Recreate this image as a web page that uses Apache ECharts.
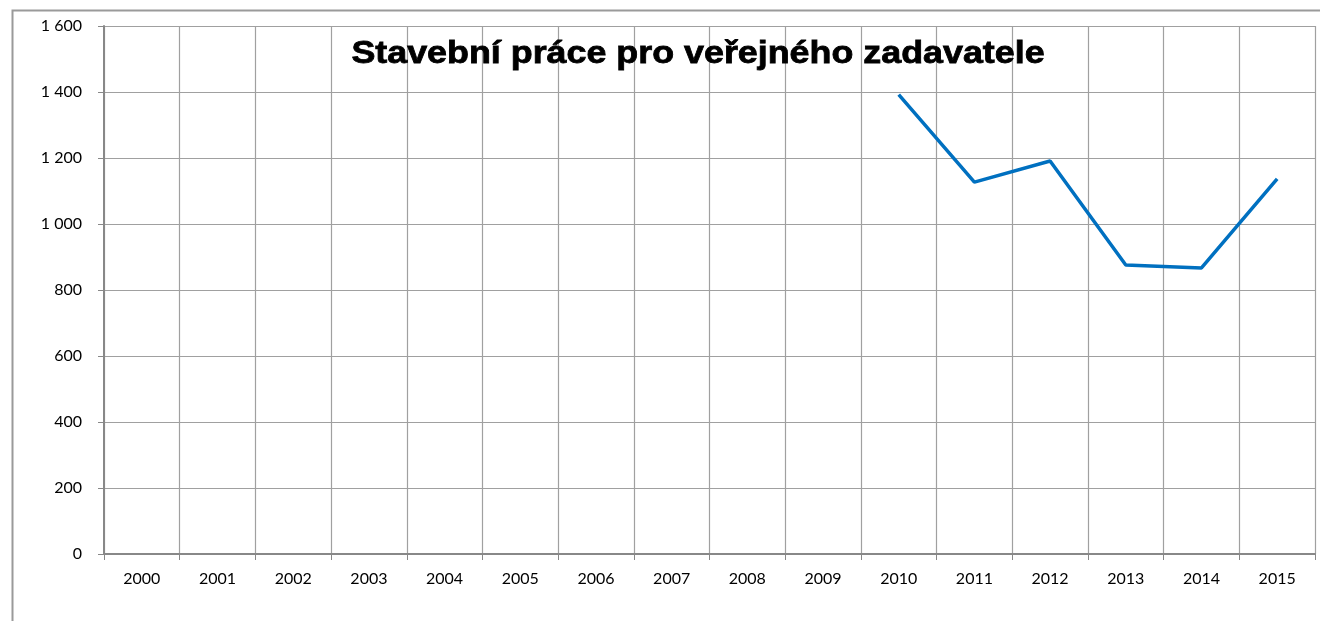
<!DOCTYPE html>
<html><head><meta charset="utf-8">
<script src="https://cdn.jsdelivr.net/npm/echarts@6/dist/echarts.min.js"></script>
<style>html,body{margin:0;padding:0;background:#fff}#c{width:1320px;height:621px}</style>
</head><body><div id="c"></div>
<script>
const categories = ['2000','2001','2002','2003','2004','2005','2006','2007','2008','2009','2010','2011','2012','2013','2014','2015'];
const values = [null,null,null,null,null,null,null,null,null,null,1392,1127,1191,876,867,1137];
const titleText = 'Stavební práce pro veřejného zadavatele';

const chart = echarts.init(document.getElementById('c'));
chart.setOption({
  animation: false,
  backgroundColor: '#fff',
  graphic: [{
    type: 'polyline', silent: true, z: 0,
    shape: { points: [[12.5, 640], [12.5, 10.5], [1330, 10.5]] },
    style: { stroke: '#9a9a9a', lineWidth: 2, fill: null }
  }, {
    type: 'text', silent: true, z: 10,
    x: 698, y: 38, scaleX: 1.12,
    style: {
      text: titleText, x: 0, y: 0, align: 'center', verticalAlign: 'top',
      fontFamily: 'Liberation Sans', fontWeight: 'bold', fontSize: 32, fill: '#000',
      stroke: '#000', lineWidth: 0.8
    }
  }],
  grid: { left: 104, right: 5, top: 26, bottom: 67, containLabel: false },
  xAxis: {
    type: 'category', data: categories, boundaryGap: true,
    axisLine: { lineStyle: { color: '#888', width: 2 } },
    axisTick: { show: true, alignWithLabel: false, length: 6, lineStyle: { color: '#888', width: 1 } },
    axisLabel: { color: '#000', fontFamily: 'Lato', fontSize: 16, margin: 17 },
    splitLine: { show: true, lineStyle: { color: '#a0a0a0', width: 1.2 } }
  },
  yAxis: {
    type: 'value', min: 0, max: 1600, interval: 200,
    axisLine: { show: true, lineStyle: { color: '#888', width: 2 } },
    axisTick: { show: true, length: 6, lineStyle: { color: '#888' } },
    axisLabel: { color: '#000', fontFamily: 'Lato', fontSize: 16, margin: 22,
      formatter: v => String(v).replace(/\B(?=(\d{3})+(?!\d))/g, ' ') },
    splitLine: { show: true, lineStyle: { color: '#a0a0a0', width: 1.2 } }
  },
  series: [{
    type: 'line', data: values, connectNulls: false, showSymbol: false, symbol: 'none',
    lineStyle: { color: '#0070C0', width: 3.5 }, z: 3
  }]
});
</script></body></html>
